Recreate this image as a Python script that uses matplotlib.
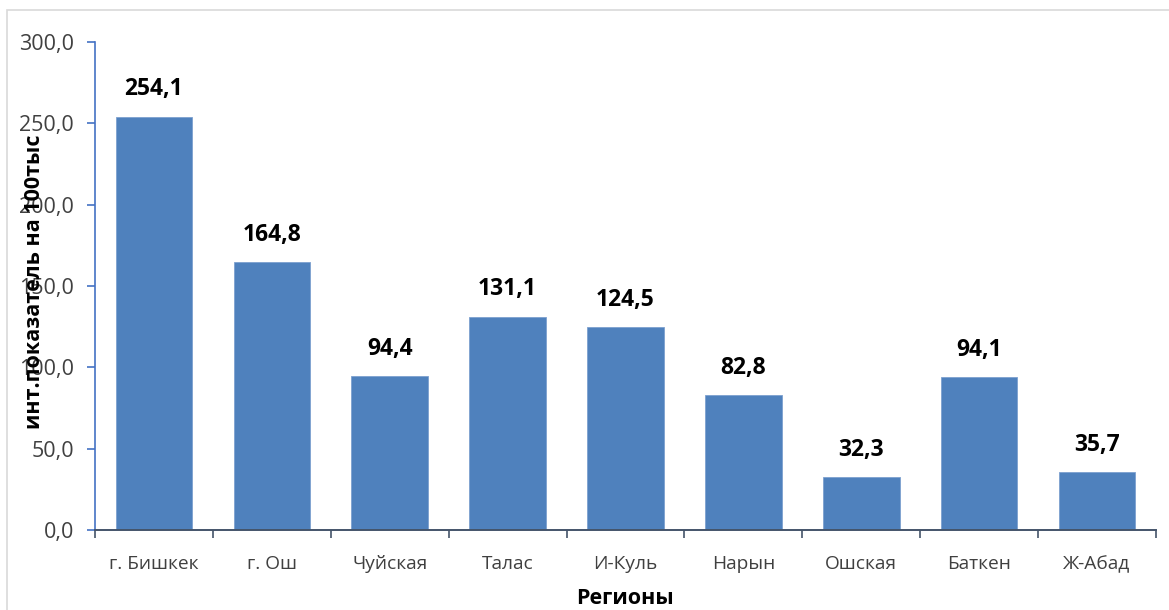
import matplotlib
matplotlib.use("Agg")
import matplotlib.pyplot as plt
from matplotlib.patches import Rectangle
import numpy as np

categories = ["г. Бишкек", "г. Ош", "Чуйская", "Талас", "И-Куль", "Нарын", "Ошская", "Баткен", "Ж-Абад"]
values = [254.1, 164.8, 94.4, 131.1, 124.5, 82.8, 32.3, 94.1, 35.7]
yticks = [0, 50, 100, 150, 200, 250, 300]

plt.rcParams['font.family'] = ['Open Sans', 'DejaVu Sans']

def fmt(v):
    return f"{v:.1f}".replace(".", ",")

fig = plt.figure(figsize=(11.69, 6.10), dpi=100)
ax = fig.add_axes([95/1169, 1-530/610, (1156-95)/1169, (530-42)/610])

x = np.arange(len(categories))
bars = ax.bar(x, values, width=0.65, color="#4F81BD", edgecolor="#7DA0CF", linewidth=0.6, zorder=2)

for xi, v in zip(x, values):
    ax.annotate(fmt(v), (xi, v), xytext=(0, 11), textcoords="offset points",
                ha="center", va="bottom", fontsize=16.5, fontweight="bold", color="black")

ax.set_xlim(-0.5, len(categories) - 0.5)
ax.set_ylim(0, 300)
ax.set_yticks(yticks)
ax.set_yticklabels([fmt(t) for t in yticks], fontsize=15.5, color="#404040")
ax.set_xticks(x)
ax.set_xticklabels(categories, fontsize=13.8, color="#404040")
ax.set_xticks(np.arange(len(categories) + 1) - 0.5, minor=True)
ax.tick_params(axis="x", which="major", length=0, pad=18)
ax.tick_params(axis="x", which="minor", length=6, width=1.2, color="#44546A", direction="out")
ax.tick_params(axis="y", length=6, width=1.2, color="#4472C4", direction="out", pad=9)

for s in ["top", "right"]:
    ax.spines[s].set_visible(False)
ax.spines["left"].set_color("#4472C4")
ax.spines["left"].set_linewidth(1.2)
ax.spines["bottom"].set_color("#44546A")
ax.spines["bottom"].set_linewidth(1.4)

fig.text(35/1169, 1-282/610, "инт.показатель на 100тыс", rotation=90, ha="center", va="center",
         fontsize=15.5, fontweight="bold", color="black")
fig.text((95+1156)/2/1169, 1-598/610, "Регионы", ha="center", va="center",
         fontsize=15.5, fontweight="bold", color="black")

fig.patches.append(Rectangle((7/1169, -0.1), 1.2, 1-10/610 + 0.1, transform=fig.transFigure,
                             fill=False, edgecolor="#D9D9D9", linewidth=1.2))

fig.savefig("out.png", dpi=100)
